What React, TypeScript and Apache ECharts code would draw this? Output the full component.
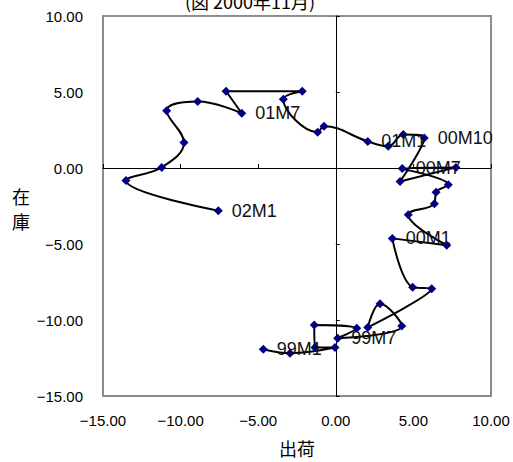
import React, { useEffect, useRef } from "react";
import * as echarts from "echarts";

const months = [
  "99M1","99M2","99M3","99M4","99M5","99M6","99M7","99M8","99M9","99M10","99M11","99M12",
  "00M1","00M2","00M3","00M4","00M5","00M6","00M7","00M8","00M9","00M10","00M11","00M12",
  "01M1","01M2","01M3","01M4","01M5","01M6","01M7","01M8","01M9","01M10","01M11","01M12",
  "02M1",
];
// 出荷 (shipments)
const shipments = [
  -4.67, -2.95, -0.05, -1.34, -1.39, 1.35, 0.12, 4.25, 2.85, 2.06, 6.18, 4.95,
  3.64, 7.15, 4.67, 6.35, 6.46, 7.25, 4.28, 7.74, 4.14, 5.7, 4.35, 3.38,
  2.06, -0.76, -1.17, -3.38, -2.16, -7.07, -6.06, -8.9, -10.9, -9.78, -11.22, -13.52,
  -7.57,
];
// 在庫 (inventory)
const inventory = [
  -11.92, -12.18, -11.81, -11.81, -10.33, -10.55, -11.2, -10.4, -8.93, -10.49, -7.95, -7.84,
  -4.63, -5.08, -3.07, -2.35, -1.59, -1.11, -0.03, 0.04, -0.89, 1.97, 2.21, 1.43,
  1.75, 2.75, 2.36, 4.53, 5.05, 5.05, 3.6, 4.38, 3.77, 1.67, 0.04, -0.83,
  -2.81,
];
const labelled = ["99M1", "99M7", "00M1", "00M7", "00M10", "01M1", "01M7", "02M1"];
const axisMin = -15;
const axisMax = 10;
const axisStep = 5;
const titleText = "(図 2000年11月)";
const xName = "出荷";
const yName = "在\n庫";

const fmt = (v: number) => v.toFixed(2).replace("-", "−");
const latin = "'Liberation Sans', Arial, 'Noto Sans CJK JP', sans-serif";
const cjk = "'Noto Sans CJK JP', sans-serif";

export default function App() {
  const ref = useRef<HTMLDivElement>(null);
  useEffect(() => {
    if (!ref.current) return;
    const chart = echarts.init(ref.current, null, { renderer: "svg" });
    const data = months.map((m, i) => ({
      value: [shipments[i], inventory[i]],
      name: m,
      label: { show: labelled.includes(m) },
    }));
    const baseAxis = {
      type: "value" as const,
      min: axisMin,
      max: axisMax,
      interval: axisStep,
      splitLine: { show: false },
    };
    chart.setOption({
      animation: false,
      grid: {
        left: 103,
        top: 16,
        width: 388,
        height: 384,
        show: true,
        borderColor: "#8c8c8c",
        borderWidth: 2,
        backgroundColor: "transparent",
      },
      graphic: [
        {
          type: "text",
          x: 250,
          y: 1,
          style: {
            text: titleText,
            font: `18px ${cjk}`,
            fill: "#000",
            align: "center",
            verticalAlign: "middle",
          },
        },
        {
          type: "text",
          x: 21,
          y: 208,
          style: {
            text: yName,
            font: `18px ${cjk}`,
            fill: "#000",
            align: "center",
            verticalAlign: "middle",
            lineHeight: 25,
          },
        },
      ],
      xAxis: [
        {
          ...baseAxis,
          position: "bottom",
          axisLine: { show: false, onZero: false },
          axisTick: { show: false },
          axisLabel: {
            formatter: fmt,
            color: "#000",
            fontSize: 15,
            fontFamily: latin,
            margin: 17,
          },
          name: xName,
          nameLocation: "middle",
          nameGap: 43,
          nameTextStyle: { fontSize: 18, fontFamily: cjk, color: "#000" },
        },
        {
          ...baseAxis,
          position: "bottom",
          axisLine: { show: true, onZero: true, onZeroAxisIndex: 0, lineStyle: { color: "#000", width: 1 } },
          axisTick: { show: true, inside: true, length: 4, lineStyle: { color: "#000" } },
          axisLabel: { show: false },
        },
      ],
      yAxis: [
        {
          ...baseAxis,
          position: "left",
          axisLine: { show: false, onZero: false },
          axisTick: { show: false },
          axisLabel: {
            formatter: fmt,
            color: "#000",
            fontSize: 15,
            fontFamily: latin,
            margin: 20,
          },
        },
        {
          ...baseAxis,
          position: "left",
          axisLine: { show: true, onZero: true, onZeroAxisIndex: 0, lineStyle: { color: "#000", width: 1 } },
          axisTick: { show: true, inside: true, length: 4, lineStyle: { color: "#000" } },
          axisLabel: { show: false },
        },
      ],
      series: [
        {
          type: "line",
          xAxisIndex: 0,
          yAxisIndex: 0,
          data,
          smooth: 0.4,
          symbol: "diamond",
          symbolSize: 9,
          itemStyle: { color: "#000080" },
          lineStyle: { color: "#000", width: 2 },
          label: {
            position: "right",
            distance: 9,
            formatter: (p: any) => p.name,
            color: "#111",
            fontSize: 18,
            fontFamily: latin,
          },
          z: 3,
        },
      ],
    });
    return () => chart.dispose();
  }, []);
  return (
    <div
      ref={ref}
      style={{ position: "absolute", left: 0, top: 0, width: 513, height: 462 }}
    />
  );
}
